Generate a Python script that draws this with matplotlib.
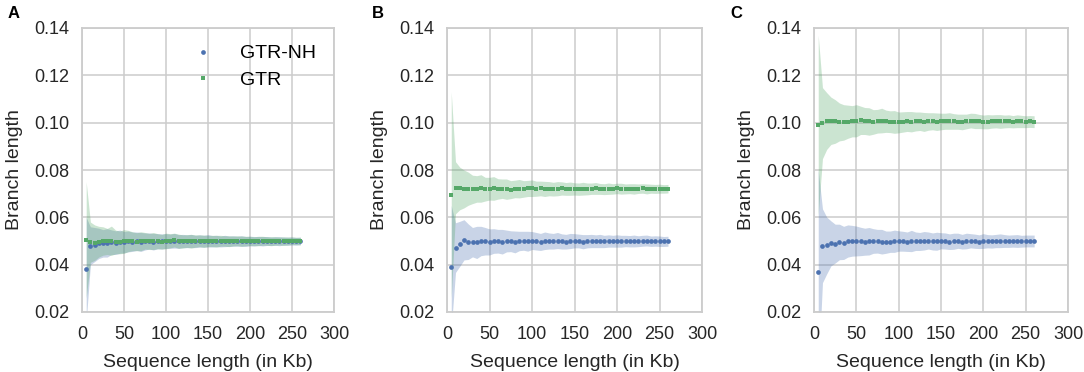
import matplotlib
matplotlib.use("Agg")
import matplotlib.pyplot as plt
import numpy as np

plt.rcParams['font.family'] = ['Liberation Sans', 'DejaVu Sans']

seq_len = list(range(5, 265, 5))  # Kb, 52 points

# ---------- Panel A ----------
a_nh_mean = [0.0380, 0.0480, 0.0485, 0.0490, 0.0490, 0.0492, 0.0495, 0.0493, 0.0497, 0.0495,
             0.0498, 0.0497, 0.0499, 0.0496, 0.0498, 0.0500, 0.0497, 0.0499, 0.0498, 0.0500,
             0.0499, 0.0501, 0.0498, 0.0500, 0.0499, 0.0500, 0.0498, 0.0500, 0.0499, 0.0501,
             0.0499, 0.0500, 0.0498, 0.0500, 0.0499, 0.0500, 0.0499, 0.0500, 0.0498, 0.0500,
             0.0499, 0.0500, 0.0499, 0.0500, 0.0499, 0.0500, 0.0499, 0.0500, 0.0499, 0.0500,
             0.0499, 0.0500]
a_nh_hw = [0.0220, 0.0080, 0.0072, 0.0064, 0.0058, 0.0060, 0.0052, 0.0050, 0.0049, 0.0045,
           0.0044, 0.0041, 0.0039, 0.0040, 0.0036, 0.0034, 0.0035, 0.0032, 0.0032, 0.0031,
           0.0030, 0.0031, 0.0029, 0.0028, 0.0027, 0.0028, 0.0026, 0.0026, 0.0025, 0.0026,
           0.0024, 0.0024, 0.0023, 0.0024, 0.0022, 0.0022, 0.0021, 0.0022, 0.0021, 0.0020,
           0.0020, 0.0019, 0.0020, 0.0019, 0.0018, 0.0018, 0.0019, 0.0017, 0.0017, 0.0017,
           0.0016, 0.0016]
a_gtr_mean = [0.0505, 0.0495, 0.0493, 0.0497, 0.0500, 0.0498, 0.0501, 0.0496, 0.0494, 0.0498,
              0.0500, 0.0499, 0.0497, 0.0499, 0.0501, 0.0498, 0.0500, 0.0499, 0.0497, 0.0500,
              0.0501, 0.0504, 0.0499, 0.0498, 0.0500, 0.0499, 0.0500, 0.0501, 0.0499, 0.0500,
              0.0500, 0.0499, 0.0501, 0.0500, 0.0499, 0.0500, 0.0501, 0.0499, 0.0500, 0.0500,
              0.0499, 0.0500, 0.0501, 0.0500, 0.0499, 0.0500, 0.0500, 0.0499, 0.0500, 0.0501,
              0.0500, 0.0500]
a_gtr_hw = [0.0245, 0.0085, 0.0075, 0.0065, 0.0060, 0.0055, 0.0062, 0.0050, 0.0048, 0.0050,
            0.0045, 0.0040, 0.0038, 0.0040, 0.0035, 0.0034, 0.0036, 0.0032, 0.0031, 0.0033,
            0.0030, 0.0029, 0.0030, 0.0028, 0.0027, 0.0029, 0.0026, 0.0025, 0.0026, 0.0024,
            0.0024, 0.0025, 0.0023, 0.0022, 0.0023, 0.0021, 0.0021, 0.0022, 0.0020, 0.0020,
            0.0019, 0.0020, 0.0019, 0.0018, 0.0019, 0.0018, 0.0017, 0.0018, 0.0017, 0.0016,
            0.0016, 0.0016]

# ---------- Panel B ----------
b_nh_mean = [0.0390, 0.0472, 0.0488, 0.0505, 0.0497, 0.0495, 0.0494, 0.0500, 0.0499, 0.0496,
             0.0500, 0.0499, 0.0497, 0.0500, 0.0499, 0.0496, 0.0500, 0.0501, 0.0499, 0.0502,
             0.0499, 0.0496, 0.0501, 0.0500, 0.0499, 0.0502, 0.0498, 0.0497, 0.0500, 0.0501,
             0.0500, 0.0497, 0.0499, 0.0500, 0.0499, 0.0500, 0.0498, 0.0500, 0.0499, 0.0500,
             0.0499, 0.0500, 0.0499, 0.0500, 0.0499, 0.0501, 0.0502, 0.0499, 0.0500, 0.0499,
             0.0498, 0.0499]
b_nh_hw = [0.0260, 0.0105, 0.0095, 0.0085, 0.0075, 0.0062, 0.0068, 0.0062, 0.0058, 0.0055,
           0.0052, 0.0050, 0.0052, 0.0046, 0.0044, 0.0046, 0.0041, 0.0040, 0.0042, 0.0038,
           0.0037, 0.0036, 0.0037, 0.0034, 0.0033, 0.0034, 0.0032, 0.0031, 0.0032, 0.0030,
           0.0029, 0.0030, 0.0028, 0.0028, 0.0027, 0.0028, 0.0026, 0.0026, 0.0025, 0.0026,
           0.0025, 0.0024, 0.0024, 0.0025, 0.0023, 0.0023, 0.0023, 0.0022, 0.0022, 0.0022,
           0.0021, 0.0021]
b_gtr_mean = [0.0695, 0.0725, 0.0722, 0.0720, 0.0721, 0.0718, 0.0720, 0.0722, 0.0719, 0.0721,
              0.0722, 0.0720, 0.0721, 0.0719, 0.0717, 0.0720, 0.0721, 0.0720, 0.0722, 0.0723,
              0.0721, 0.0722, 0.0720, 0.0721, 0.0719, 0.0721, 0.0722, 0.0720, 0.0721, 0.0720,
              0.0719, 0.0721, 0.0720, 0.0721, 0.0722, 0.0720, 0.0719, 0.0721, 0.0720, 0.0722,
              0.0721, 0.0720, 0.0721, 0.0720, 0.0721, 0.0722, 0.0720, 0.0721, 0.0720, 0.0721,
              0.0720, 0.0721]
b_gtr_hw = [0.0435, 0.0110, 0.0090, 0.0080, 0.0070, 0.0060, 0.0056, 0.0058, 0.0050, 0.0048,
            0.0050, 0.0043, 0.0041, 0.0043, 0.0038, 0.0037, 0.0039, 0.0035, 0.0034, 0.0035,
            0.0032, 0.0031, 0.0032, 0.0030, 0.0029, 0.0030, 0.0028, 0.0027, 0.0028, 0.0026,
            0.0026, 0.0027, 0.0025, 0.0024, 0.0025, 0.0023, 0.0023, 0.0024, 0.0022, 0.0022,
            0.0023, 0.0021, 0.0021, 0.0022, 0.0020, 0.0020, 0.0021, 0.0019, 0.0019, 0.0019,
            0.0018, 0.0018]

# ---------- Panel C ----------
c_nh_mean = [0.0370, 0.0480, 0.0481, 0.0490, 0.0489, 0.0496, 0.0492, 0.0500, 0.0501, 0.0500,
             0.0498, 0.0497, 0.0499, 0.0500, 0.0499, 0.0497, 0.0495, 0.0497, 0.0499, 0.0500,
             0.0499, 0.0497, 0.0500, 0.0499, 0.0498, 0.0501, 0.0502, 0.0498, 0.0499, 0.0501,
             0.0500, 0.0497, 0.0499, 0.0501, 0.0497, 0.0500, 0.0501, 0.0499, 0.0497, 0.0500,
             0.0499, 0.0498, 0.0500, 0.0501, 0.0500, 0.0499, 0.0500, 0.0500, 0.0499, 0.0500,
             0.0500, 0.0500]
c_nh_hw = [0.0430, 0.0156, 0.0120, 0.0095, 0.0082, 0.0075, 0.0070, 0.0068, 0.0065, 0.0063,
           0.0060, 0.0057, 0.0058, 0.0052, 0.0050, 0.0052, 0.0047, 0.0045, 0.0047, 0.0043,
           0.0042, 0.0041, 0.0045, 0.0039, 0.0038, 0.0039, 0.0036, 0.0036, 0.0038, 0.0034,
           0.0034, 0.0033, 0.0034, 0.0032, 0.0031, 0.0033, 0.0030, 0.0030, 0.0029, 0.0031,
           0.0028, 0.0028, 0.0028, 0.0029, 0.0027, 0.0026, 0.0026, 0.0027, 0.0025, 0.0025,
           0.0025, 0.0025]
c_gtr_mean = [0.0990, 0.0998, 0.1007, 0.1008, 0.1005, 0.1003, 0.1001, 0.1004, 0.1006, 0.1008,
              0.1010, 0.1007, 0.1005, 0.1003, 0.1006, 0.1009, 0.1006, 0.1004, 0.1003, 0.1001,
              0.1003, 0.1005, 0.1004, 0.1005, 0.1006, 0.1003, 0.1005, 0.1006, 0.1004, 0.1005,
              0.1006, 0.1007, 0.1005, 0.1004, 0.1003, 0.1005, 0.1009, 0.1007, 0.1005, 0.1003,
              0.1004, 0.1005, 0.1006, 0.1005, 0.1005, 0.1006, 0.1004, 0.1006, 0.1005, 0.1004,
              0.1005, 0.1004]
c_gtr_hw = [0.0380, 0.0150, 0.0120, 0.0100, 0.0092, 0.0080, 0.0075, 0.0070, 0.0066, 0.0068,
            0.0060, 0.0057, 0.0058, 0.0052, 0.0050, 0.0052, 0.0047, 0.0046, 0.0048, 0.0044,
            0.0043, 0.0042, 0.0043, 0.0040, 0.0039, 0.0040, 0.0037, 0.0036, 0.0037, 0.0035,
            0.0034, 0.0035, 0.0033, 0.0032, 0.0033, 0.0031, 0.0031, 0.0032, 0.0030, 0.0029,
            0.0030, 0.0028, 0.0028, 0.0029, 0.0027, 0.0027, 0.0026, 0.0027, 0.0026, 0.0025,
            0.0025, 0.0025]

panels = [
    ("A", a_nh_mean, a_nh_hw, a_gtr_mean, a_gtr_hw),
    ("B", b_nh_mean, b_nh_hw, b_gtr_mean, b_gtr_hw),
    ("C", c_nh_mean, c_nh_hw, c_gtr_mean, c_gtr_hw),
]

BLUE = "#4C72B0"
GREEN = "#55A868"
GRID = "#cccccc"

W, H = 1084, 372
fig = plt.figure(figsize=(W / 100, H / 100), dpi=100)

ax_px = [(82, 334), (447, 702), (814, 1068)]
letter_px = [8, 372, 730]
top_px, bot_px = 28, 312

x = np.array(seq_len)
for (letter, nh_m, nh_h, g_m, g_h), (l, r), lx in zip(panels, ax_px, letter_px):
    ax = fig.add_axes([l / W, 1 - bot_px / H, (r - l) / W, (bot_px - top_px) / H])
    nh_m, nh_h, g_m, g_h = map(np.array, (nh_m, nh_h, g_m, g_h))
    ax.fill_between(x, nh_m - nh_h, nh_m + nh_h, color=BLUE, alpha=0.3, lw=0)
    ax.fill_between(x, g_m - g_h, g_m + g_h, color=GREEN, alpha=0.3, lw=0)
    ax.plot(x, nh_m, 'o', color=BLUE, ms=3.4, mew=0, label="GTR-NH")
    ax.plot(x, g_m, 's', color=GREEN, ms=3.4, mew=0, label="GTR")
    ax.set_xlim(0, 300)
    ax.set_ylim(0.02, 0.14)
    ax.set_xticks([0, 50, 100, 150, 200, 250, 300])
    ax.set_yticks([0.02, 0.04, 0.06, 0.08, 0.10, 0.12, 0.14])
    ax.set_yticklabels(["0.02", "0.04", "0.06", "0.08", "0.10", "0.12", "0.14"])
    ax.grid(True, color=GRID, lw=1.1)
    ax.set_axisbelow(True)
    for s in ax.spines.values():
        s.set_color(GRID)
        s.set_linewidth(1.3)
    ax.tick_params(length=0, labelsize=13, colors="#262626")
    ax.tick_params(axis='y', pad=9)
    ax.tick_params(axis='x', pad=10)
    ax.set_xlabel("Sequence length (in Kb)", fontsize=14, color="#262626", labelpad=8)
    ax.set_ylabel("Branch length", fontsize=14, color="#262626", labelpad=8)
    fig.text(lx / W, 1 - 14 / H, letter, fontsize=12, fontweight='bold', va='center', ha='left')
    if letter == "A":
        ax.legend(loc='upper left', bbox_to_anchor=(0.409, 0.968), borderaxespad=0,
                  frameon=False, fontsize=14, handlelength=1.0, handletextpad=1.4,
                  labelspacing=0.45, markerscale=1.0)

fig.savefig("out.png", dpi=100)
